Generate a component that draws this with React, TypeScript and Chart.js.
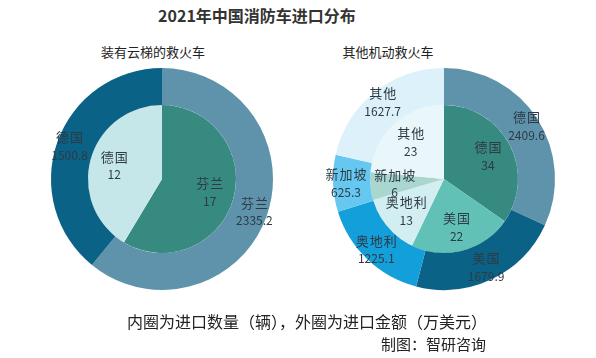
import React, { useEffect, useRef } from "react";
import { Chart, registerables } from "chart.js";

Chart.register(...registerables);

const leftCategories = ["芬兰", "德国"];
const leftAmount = [2335.2, 1500.8];
const leftCount = [17, 12];
const leftOuterColors = ["#5E93AB", "#0B6287"];
const leftInnerColors = ["#378A80", "#C6E7E9"];

const rightCategories = ["德国", "美国", "奥地利", "新加坡", "其他"];
const rightAmount = [2409.6, 1679.9, 1225.1, 625.3, 1627.7];
const rightCount = [34, 22, 13, 6, 23];
const rightOuterColors = ["#5E93AB", "#0B6287", "#139FD9", "#66C8F0", "#DDF1FA"];
const rightInnerColors = ["#378A80", "#62C1B7", "#D3EEF1", "#A9D7D0", "#E9F6FA"];

const FONT = "'Noto Sans CJK SC', 'Noto Sans', sans-serif";

const labelPlugin = {
  id: "sliceLabels",
  afterDatasetsDraw(chart: any) {
    const ctx = chart.ctx;
    const labels = chart.data.labels as string[];
    chart.data.datasets.forEach((ds: any, di: number) => {
      const meta = chart.getDatasetMeta(di);
      meta.data.forEach((arc: any, i: number) => {
        const p = arc.getProps(["x", "y", "startAngle", "endAngle", "innerRadius", "outerRadius"], true);
        const mid = (p.startAngle + p.endAngle) / 2;
        const r = di === 0 ? p.innerRadius + (p.outerRadius - p.innerRadius) * 0.65 : p.outerRadius * 0.67;
        const cx = p.x + Math.cos(mid) * r;
        const cy = p.y + Math.sin(mid) * r;
        ctx.save();
        ctx.fillStyle = "#2E3A44";
        ctx.textAlign = "center";
        ctx.textBaseline = "middle";
        ctx.font = `13px ${FONT}`;
        (ctx as any).letterSpacing = "1px";
        ctx.fillText(labels[i], cx + 0.5, cy - 9);
        (ctx as any).letterSpacing = "0px";
        ctx.font = `12px ${FONT}`;
        ctx.fillText(String(ds.data[i]), cx, cy + 9);
        ctx.restore();
      });
    });
  },
};

const PAD = 20;

function Donut(props: {
  left: number;
  top: number;
  size: number;
  labels: string[];
  outer: number[];
  inner: number[];
  outerColors: string[];
  innerColors: string[];
}) {
  const ref = useRef<HTMLCanvasElement>(null);
  useEffect(() => {
    if (!ref.current) return;
    const chart = new Chart(ref.current, {
      type: "doughnut",
      data: {
        labels: props.labels,
        datasets: [
          { data: props.outer, backgroundColor: props.outerColors, borderWidth: 0, weight: 37 } as any,
          { data: props.inner, backgroundColor: props.innerColors, borderWidth: 0, weight: 74 } as any,
        ],
      },
      options: {
        animation: false,
        responsive: false,
        maintainAspectRatio: false,
        cutout: 0,
        layout: { padding: PAD },
        plugins: { legend: { display: false }, tooltip: { enabled: false }, title: { display: false } },
      },
      plugins: [labelPlugin],
    });
    return () => chart.destroy();
  }, []);
  return (
    <canvas
      ref={ref}
      width={props.size}
      height={props.size}
      style={{ position: "absolute", left: props.left, top: props.top, width: props.size, height: props.size }}
    />
  );
}

const textBase: React.CSSProperties = {
  position: "absolute",
  fontFamily: FONT,
  whiteSpace: "nowrap",
  lineHeight: 1,
};

export default function App() {
  return (
    <div style={{ position: "fixed", left: 0, top: 0, width: 596, height: 358, background: "#fff", overflow: "hidden" }}>
      <div style={{ ...textBase, left: 0, width: 514, top: 7, textAlign: "center", fontSize: 16, fontWeight: 700, color: "#333" }}>
        2021年中国消防车进口分布
      </div>
      <div style={{ ...textBase, left: 53, width: 200, top: 45, textAlign: "center", fontSize: 13, color: "#222" }}>
        装有云梯的救火车
      </div>
      <div style={{ ...textBase, left: 288, width: 200, top: 45, textAlign: "center", fontSize: 13, color: "#222" }}>
        其他机动救火车
      </div>
      <Donut
        left={51 - PAD}
        top={68 - PAD}
        size={222 + 2 * PAD}
        labels={leftCategories}
        outer={leftAmount}
        inner={leftCount}
        outerColors={leftOuterColors}
        innerColors={leftInnerColors}
      />
      <Donut
        left={333 - PAD}
        top={68 - PAD}
        size={222 + 2 * PAD}
        labels={rightCategories}
        outer={rightAmount}
        inner={rightCount}
        outerColors={rightOuterColors}
        innerColors={rightInnerColors}
      />
      <div style={{ ...textBase, left: 127, top: 313, fontSize: 16, color: "#222" }}>
        内圈为进口数量（辆），外圈为进口金额（万美元）
      </div>
      <div style={{ ...textBase, left: 381, top: 336, fontSize: 15, color: "#222" }}>
        制图：智研咨询
      </div>
    </div>
  );
}
